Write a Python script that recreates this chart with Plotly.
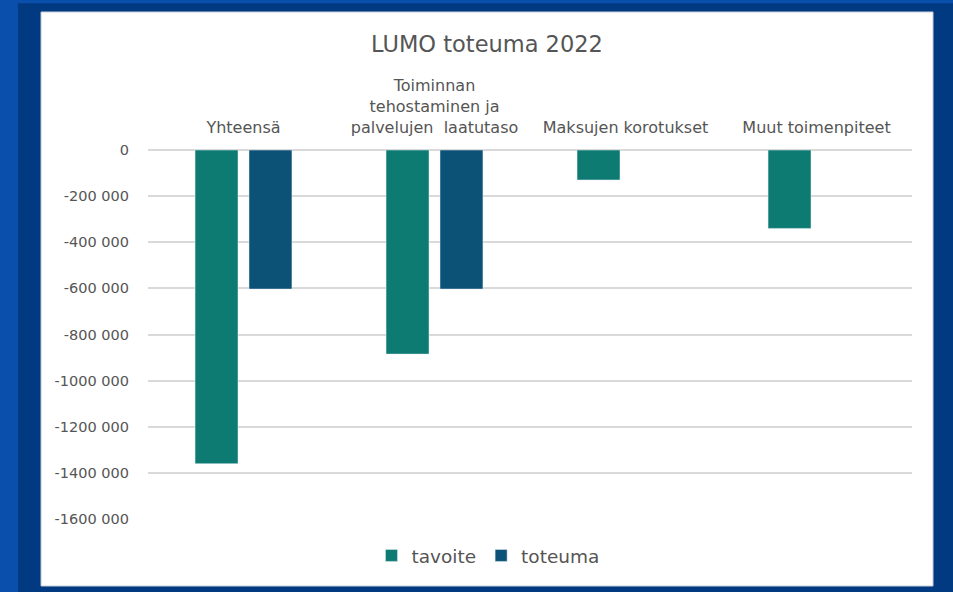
import plotly.graph_objects as go

categories = [
    "Yhteensä",
    "Toiminnan<br>tehostaminen ja<br>palvelujen  laatutaso",
    "Maksujen korotukset",
    "Muut toimenpiteet",
]
tavoite = [-1360000, -885000, -130000, -340000]
toteuma = [-603000, -603000, None, None]

y_ticks = [0, -200000, -400000, -600000, -800000, -1000000, -1200000, -1400000, -1600000]
y_labels = ["0", "-200 000", "-400 000", "-600 000", "-800 000",
            "-1000 000", "-1200 000", "-1400 000", "-1600 000"]

TEXT = "#555555"
FONT = "DejaVu Sans"

fig = go.Figure()
fig.add_trace(go.Bar(name="tavoite", x=categories, y=tavoite, marker_color="#0d7b72"))
fig.add_trace(go.Bar(name="toteuma", x=categories, y=toteuma, marker_color="#0c5277"))

# frame: dark blue slide background, brighter strips, white chart box
fig.add_shape(type="rect", xref="paper", yref="paper", layer="below",
              x0=-0.1937, x1=-0.1702, y0=-0.2, y1=1.41,
              fillcolor="#0b4fad", line_width=0)
fig.add_shape(type="rect", xref="paper", yref="paper", layer="below",
              x0=-0.1937, x1=1.06, y0=1.398, y1=1.41,
              fillcolor="#0b4fad", line_width=0)
fig.add_shape(type="rect", xref="paper", yref="paper", layer="below",
              x0=-0.140, x1=1.0275, y0=-0.1816, y1=1.374,
              fillcolor="white", line=dict(color="#c8ccd6", width=1))

fig.update_layout(
    width=953, height=592,
    margin=dict(l=148, r=41, t=150, b=73),
    paper_bgcolor="#023a82",
    plot_bgcolor="white",
    barmode="group",
    bargap=0.435,
    bargroupgap=0.204,
    font=dict(family=FONT, color=TEXT),
    title=dict(text="LUMO toteuma 2022", x=0.511, xanchor="center",
               y=0.925, yanchor="middle", font=dict(size=22.5, color=TEXT)),
    xaxis=dict(side="top", showgrid=False, showline=False, ticks="",
               tickfont=dict(size=16, color=TEXT), ticklabelstandoff=13),
    yaxis=dict(range=[-1600000, 0], tickvals=y_ticks, ticktext=y_labels,
               showgrid=True, gridcolor="#d9d9d9", gridwidth=1.5,
               zeroline=True, zerolinecolor="#d9d9d9", zerolinewidth=1.5,
               tickfont=dict(size=14.5, color=TEXT), ticklabelstandoff=18),
    legend=dict(orientation="h", x=0.445, xanchor="center", y=-0.1, yanchor="middle",
                bgcolor="rgba(0,0,0,0)", font=dict(size=18.5, color=TEXT), itemwidth=30),
    showlegend=True,
)

fig.write_html("out.html", config={"displayModeBar": False},
               post_script="document.body.style.margin='0';")
